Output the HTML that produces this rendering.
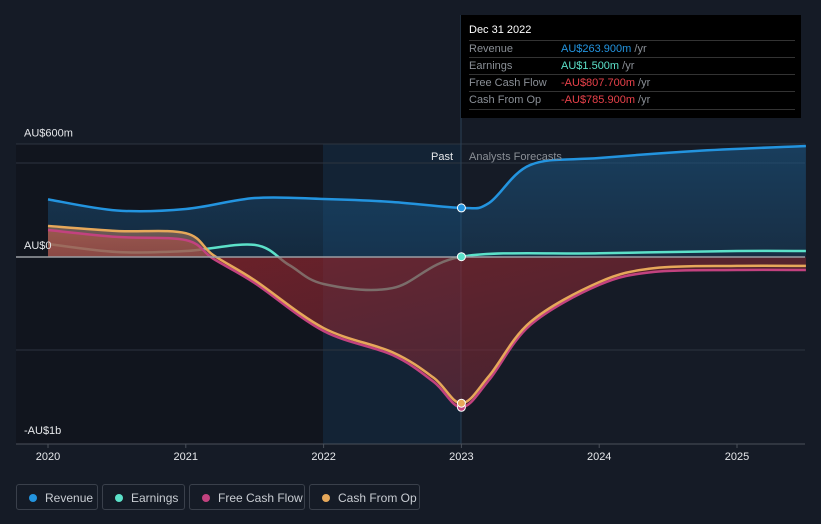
<!DOCTYPE html>
<html><head><meta charset="utf-8">
<style>
body{margin:0;background:#151b26;font-family:"Liberation Sans",sans-serif;}
#wrap{position:relative;width:821px;height:524px;overflow:hidden;background:#151b26;}
.leg{position:absolute;top:484px;height:26px;border:1px solid #3a404b;border-radius:3px;color:#c8ccd2;font-size:12px;line-height:26px;box-sizing:border-box;}
.leg i{position:absolute;left:12px;top:9px;width:8px;height:8px;border-radius:50%;}
.leg span{position:absolute;left:28px;}
#tip{position:absolute;left:461px;top:15px;width:340px;height:103px;background:#000;color:#fff;font-size:11px;}
#tip .row{position:absolute;left:8px;width:326px;height:17px;border-top:1px solid #333;color:#8a8f96;line-height:17px;}
#tip .v{position:absolute;left:92px;}
</style></head><body>
<div id="wrap">
<svg id="svg" width="821" height="524" style="position:absolute;left:0;top:0"></svg>
<div id="tip">
<div style="position:absolute;left:8px;top:9px;font-size:11px;color:#fff">Dec 31 2022</div>
<div class="row" style="top:25px">Revenue<span class="v"><b style="font-weight:normal;color:#2394df">AU$263.900m</b> /yr</span></div>
<div class="row" style="top:42px">Earnings<span class="v"><b style="font-weight:normal;color:#5ce1c9">AU$1.500m</b> /yr</span></div>
<div class="row" style="top:59px">Free Cash Flow<span class="v"><b style="font-weight:normal;color:#e8414a">-AU$807.700m</b> /yr</span></div>
<div class="row" style="top:76px">Cash From Op<span class="v"><b style="font-weight:normal;color:#e8414a">-AU$785.900m</b> /yr</span></div>
<div class="row" style="top:94px;height:0"></div>
</div>
<div class="leg" style="left:16px;width:82px"><i style="background:#2394df"></i><span>Revenue</span></div>
<div class="leg" style="left:102px;width:83px"><i style="background:#5ce1c9"></i><span>Earnings</span></div>
<div class="leg" style="left:189px;width:116px"><i style="background:#c2427f"></i><span>Free Cash Flow</span></div>
<div class="leg" style="left:309px;width:111px"><i style="background:#e6a85a"></i><span>Cash From Op</span></div>
</div>
<script>
const revX=[2020,2020.5,2021,2021.5,2022,2022.5,2023,2023.2,2023.5,2024,2024.7,2025.5];
const revY=[310,250,258,317,312,296,264,290,495,532,570,597];
const earnX=[2020,2020.5,2021,2021.5,2021.75,2022,2022.5,2023,2024,2025,2025.5];
const earnY=[70,27,32,65,-43,-145,-167,1.5,20,32,32];
const fcfX=[2020,2020.5,2021,2021.2,2021.5,2022,2022.5,2022.8,2023,2023.2,2023.5,2024,2024.4,2025,2025.5];
const fcfY=[145,108,91,-10,-140,-398,-527,-672,-808,-662,-366,-150,-80,-70,-70];
const cfoX=[2020,2020.5,2021,2021.2,2021.5,2022,2022.5,2022.8,2023,2023.2,2023.5,2024,2024.4,2025,2025.5];
const cfoY=[167,140,128,10,-125,-382,-512,-650,-786,-640,-350,-135,-60,-48,-48];
const yTicks=["AU$600m","AU$0","-AU$1b"];
const yVals=[600,0,-1000];
const xTicks=[2020,2021,2022,2023,2024,2025];
const NS="http://www.w3.org/2000/svg",svg=document.getElementById('svg');
const X=v=>48+(v-2020)*137.8, Y=v=>257-v*0.186;
function el(t,a,p){const e=document.createElementNS(NS,t);for(const k in a)e.setAttribute(k,a[k]);(p||svg).appendChild(e);return e;}
function path(xs,ys){const p=xs.map((x,i)=>[X(x),Y(ys[i])]);let d='M'+p[0];for(let i=0;i<p.length-1;i++){const a=p[i-1]||p[i],b=p[i],c=p[i+1],e=p[i+2]||c;d+=' C'+(b[0]+(c[0]-a[0])/6)+','+(b[1]+(c[1]-a[1])/6)+' '+(c[0]-(e[0]-b[0])/6)+','+(c[1]-(e[1]-b[1])/6)+' '+c;}return d;}
const defs=el('defs',{});
defs.innerHTML='<linearGradient id="pos" x1="0" y1="0" x2="0" y2="1"><stop offset="0" stop-color="#1c5a8a" stop-opacity="0.55"/><stop offset="1" stop-color="#1c5a8a" stop-opacity="0.3"/></linearGradient><linearGradient id="neg" x1="0" y1="0" x2="1" y2="1"><stop offset="0" stop-color="#a3262c" stop-opacity="0.7"/><stop offset="1" stop-color="#6a2a3a" stop-opacity="0.5"/></linearGradient><linearGradient id="cfo" x1="0" y1="0" x2="0" y2="1"><stop offset="0" stop-color="#b07a60" stop-opacity="0.6"/><stop offset="1" stop-color="#b07a60" stop-opacity="0.4"/></linearGradient>';
let r;
r=el('rect',{x:16,y:144,width:307,height:300,fill:'#11151e'});
r=el('rect',{x:323,y:144,width:138,height:300,fill:'#13253a',opacity:0.8});
[144,163,350].forEach(v=>{const g=el('line',{x1:16,x2:805,y1:v,y2:v,stroke:'#2d3440','stroke-width':1});});
el('line',{x1:461,x2:461,y1:15,y2:444,stroke:'#2a4055','stroke-width':1});
el('line',{x1:16,x2:805,y1:444,y2:444,stroke:'#4a505a','stroke-width':1});
let a=el('path',{d:path(revX,revY)+` L${X(2025.5)},${Y(0)} L${X(2020)},${Y(0)} Z`,fill:'url(#pos)'});
const el1=el('path',{d:path(earnX,earnY),fill:'none',stroke:'#5ce1c9','stroke-width':2.5});
a=el('path',{d:path(fcfX,fcfY)+` L${X(2025.5)},${Y(0)} L${X(2020)},${Y(0)} Z`,fill:'url(#neg)'});
a=el('path',{d:path(cfoX.slice(0,4),cfoY.slice(0,4))+` L${X(2021.2)},${Y(0)} L${X(2020)},${Y(0)} Z`,fill:'url(#cfo)'});
const series=[[earnX,earnY,'#5ce1c9','earnings-line'],[fcfX,fcfY,'#c2427f','fcf-line'],[cfoX,cfoY,'#e6a85a','cfo-line'],[revX,revY,'#2394df','revenue-line']];
series.slice(1).forEach(s=>{const l=el('path',{d:path(s[0],s[1]),fill:'none',stroke:s[2],'stroke-width':2.5});});
el('line',{x1:16,x2:805,y1:257,y2:257,stroke:'#9a9ea4','stroke-width':1.5});
series.forEach(s=>{const i=s[0].indexOf(2023);const c=el('circle',{cx:X(2023),cy:Y(s[1][i]),r:4,fill:s[2],stroke:'#fff','stroke-width':1});});
function txt(x,y,s,o){const t=el('text',Object.assign({x:x,y:y,fill:'#e6e8eb','font-size':11,'font-family':'Liberation Sans, sans-serif'},o||{}));t.textContent=s;return t;}
const yOff=[-9,-8,-9];
yTicks.forEach((s,i)=>{const t=txt(24,Y(yVals[i])+yOff[i],s);});
xTicks.forEach(v=>{el('line',{x1:X(v),x2:X(v),y1:444,y2:448,stroke:'#4a505a'});const t=txt(X(v),460,String(v),{'text-anchor':'middle'});});
let t=txt(453,160,'Past',{'text-anchor':'end'});
t=txt(469,160,'Analysts Forecasts',{fill:'#8a8f96'});
</script>
</body></html>
